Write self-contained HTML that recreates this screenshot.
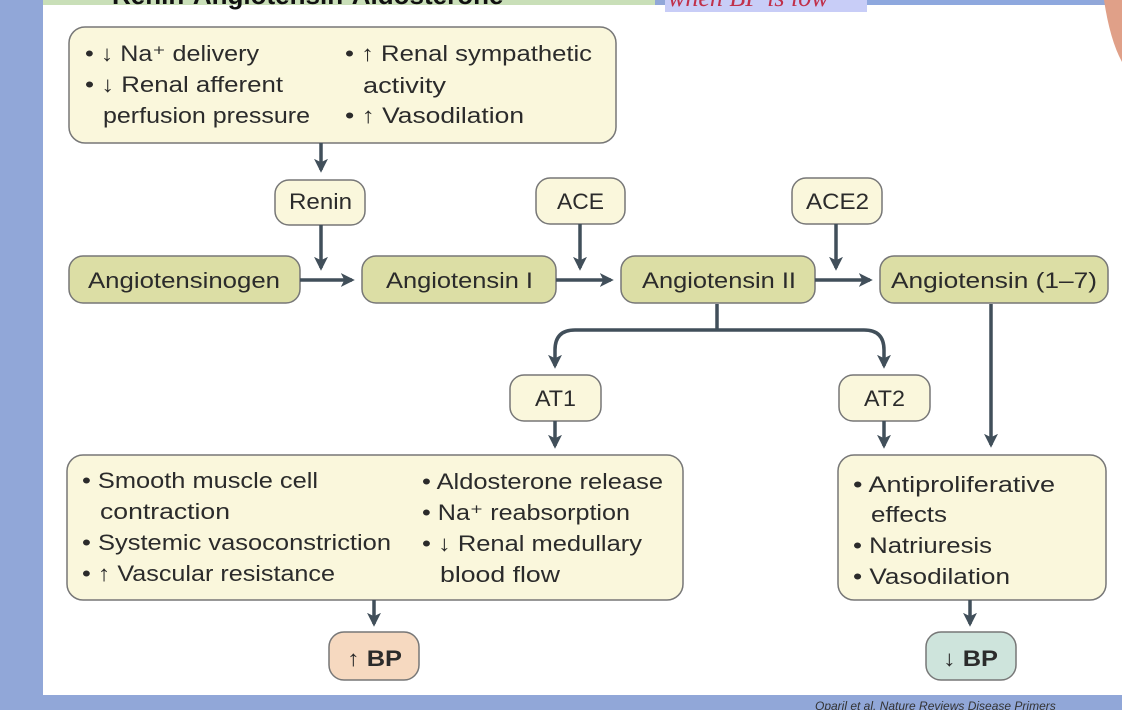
<!DOCTYPE html>
<html><head><meta charset="utf-8"><style>
html,body{margin:0;padding:0;width:1122px;height:710px;overflow:hidden;background:#91a7d8;}
svg{display:block}
text{font-family:"Liberation Sans","DejaVu Sans",sans-serif;fill:#2b2b2b;font-size:22px}
</style></head><body>
<svg width="1122" height="710" viewBox="0 0 1122 710" xmlns="http://www.w3.org/2000/svg">
<defs>
<marker id="a" viewBox="0 0 10 10" markerWidth="14" markerHeight="14" refX="8" refY="5" orient="auto" markerUnits="userSpaceOnUse">
<path d="M0,0 L10,5 L0,10 L2.5,5 Z" fill="#414f5a"/>
</marker>
</defs>
<rect x="0" y="0" width="1122" height="710" fill="#91a7d8"/>
<rect x="43" y="5" width="1079" height="690" fill="#ffffff"/>
<rect x="43" y="0" width="612" height="5" fill="#c9dfb8"/>
<rect x="665" y="0" width="425" height="5" fill="#8ea8de"/>
<rect x="665" y="0" width="202" height="12" fill="#c8cdf7"/>
<text x="668" y="6" style="font-family:'Liberation Serif',serif;font-style:italic;fill:#c0304a;font-size:26px">when BP is low</text>
<text x="112" y="4" style="font-weight:bold;fill:#111;font-size:26px">Renin-Angiotensin-Aldosterone</text>
<path d="M1104,0 Q1110,40 1122,62 L1122,0 Z" fill="#e0a088"/>
<text x="815" y="710" style="font-size:12px;font-style:italic;fill:#333">Oparil et al. Nature Reviews Disease Primers</text>

<g stroke="#777" stroke-width="1.5">
<rect x="69" y="27" width="547" height="116" rx="16" fill="#faf7dc"/>
<rect x="275" y="180" width="90" height="45" rx="14" fill="#faf7dc"/>
<rect x="536" y="178" width="89" height="46" rx="14" fill="#faf7dc"/>
<rect x="792" y="178" width="90" height="46" rx="14" fill="#faf7dc"/>
<rect x="69" y="256" width="231" height="47" rx="14" fill="#dcdea5"/>
<rect x="362" y="256" width="194" height="47" rx="14" fill="#dcdea5"/>
<rect x="621" y="256" width="194" height="47" rx="14" fill="#dcdea5"/>
<rect x="880" y="256" width="228" height="47" rx="14" fill="#dcdea5"/>
<rect x="510" y="375" width="91" height="46" rx="14" fill="#faf7dc"/>
<rect x="839" y="375" width="91" height="46" rx="14" fill="#faf7dc"/>
<rect x="67" y="455" width="616" height="145" rx="16" fill="#faf7dc"/>
<rect x="838" y="455" width="268" height="145" rx="16" fill="#faf7dc"/>
<rect x="329" y="632" width="90" height="48" rx="15" fill="#f6d9c0"/>
<rect x="926" y="632" width="90" height="48" rx="15" fill="#cee4dc"/>
</g>

<g stroke="#414f5a" stroke-width="3.5" fill="none" marker-end="url(#a)">
<path d="M321,143 V170"/>
<path d="M321,225 V268"/>
<path d="M300,280 H352"/>
<path d="M580,224 V268"/>
<path d="M556,280 H611"/>
<path d="M836,224 V268"/>
<path d="M815,280 H870"/>
<path d="M717,304 V330 M717,330 H575 Q555,330 555,350 V366"/>
<path d="M717,330 H864 Q884,330 884,350 V366"/>
<path d="M991,304 V445"/>
<path d="M555,421 V446"/>
<path d="M884,421 V446"/>
<path d="M374,600 V624"/>
<path d="M970,600 V624"/>
</g>

<g style="font-size:23px">
<text x="289" y="209" textLength="63" lengthAdjust="spacingAndGlyphs">Renin</text>
<text x="557" y="209" textLength="47" lengthAdjust="spacingAndGlyphs">ACE</text>
<text x="806" y="209" textLength="63" lengthAdjust="spacingAndGlyphs">ACE2</text>
<text x="88" y="288" textLength="192" lengthAdjust="spacingAndGlyphs">Angiotensinogen</text>
<text x="386" y="288" textLength="147" lengthAdjust="spacingAndGlyphs">Angiotensin I</text>
<text x="642" y="288" textLength="154" lengthAdjust="spacingAndGlyphs">Angiotensin II</text>
<text x="891" y="288" textLength="206" lengthAdjust="spacingAndGlyphs">Angiotensin (1–7)</text>
<text x="535" y="406" textLength="41" lengthAdjust="spacingAndGlyphs">AT1</text>
<text x="864" y="406" textLength="41" lengthAdjust="spacingAndGlyphs">AT2</text>
<text x="347" y="666" textLength="55" lengthAdjust="spacingAndGlyphs" style="font-weight:bold">↑ BP</text>
<text x="943" y="666" textLength="55" lengthAdjust="spacingAndGlyphs" style="font-weight:bold">↓ BP</text>
</g>

<g>
<text x="85" y="61" textLength="174" lengthAdjust="spacingAndGlyphs">• ↓ Na⁺ delivery</text>
<text x="85" y="92" textLength="198" lengthAdjust="spacingAndGlyphs">• ↓ Renal afferent</text>
<text x="103" y="123" textLength="207" lengthAdjust="spacingAndGlyphs">perfusion pressure</text>
<text x="345" y="61" textLength="247" lengthAdjust="spacingAndGlyphs">• ↑ Renal sympathetic</text>
<text x="363" y="93" textLength="83" lengthAdjust="spacingAndGlyphs">activity</text>
<text x="345" y="123" textLength="179" lengthAdjust="spacingAndGlyphs">• ↑ Vasodilation</text>

<text x="82" y="488" textLength="236" lengthAdjust="spacingAndGlyphs">• Smooth muscle cell</text>
<text x="100" y="519" textLength="130" lengthAdjust="spacingAndGlyphs">contraction</text>
<text x="82" y="550" textLength="309" lengthAdjust="spacingAndGlyphs">• Systemic vasoconstriction</text>
<text x="82" y="581" textLength="253" lengthAdjust="spacingAndGlyphs">• ↑ Vascular resistance</text>
<text x="422" y="489" textLength="241" lengthAdjust="spacingAndGlyphs">• Aldosterone release</text>
<text x="422" y="520" textLength="208" lengthAdjust="spacingAndGlyphs">• Na⁺ reabsorption</text>
<text x="422" y="551" textLength="220" lengthAdjust="spacingAndGlyphs">• ↓ Renal medullary</text>
<text x="440" y="582" textLength="120" lengthAdjust="spacingAndGlyphs">blood flow</text>

<text x="853" y="492" textLength="202" lengthAdjust="spacingAndGlyphs">• Antiproliferative</text>
<text x="871" y="522" textLength="76" lengthAdjust="spacingAndGlyphs">effects</text>
<text x="853" y="553" textLength="139" lengthAdjust="spacingAndGlyphs">• Natriuresis</text>
<text x="853" y="584" textLength="157" lengthAdjust="spacingAndGlyphs">• Vasodilation</text>
</g>
</svg>
</body></html>
